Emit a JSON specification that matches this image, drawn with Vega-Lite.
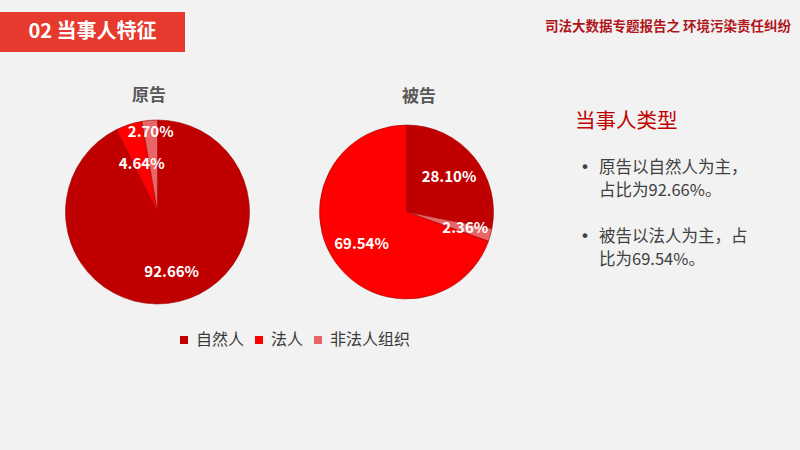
{
  "$schema": "https://vega.github.io/schema/vega-lite/v6.json",
  "background": "#F2F2F2",
  "padding": {"top": 12, "left": 0, "right": 0, "bottom": 0},
  "config": {
    "font": "Noto Sans CJK SC",
    "view": {"stroke": null},
    "concat": {"spacing": 0},
    "title": {"font": "Noto Sans CJK SC"}
  },
  "datasets": {
    "header": [{"text": "02  当事人特征"}],
    "report": [{"text": "司法大数据专题报告之 环境污染责任纠纷"}],
    "shares": [
      {"party": "原告", "category": "自然人", "rank": 1, "pct": 0.9266},
      {"party": "原告", "category": "法人", "rank": 2, "pct": 0.0464},
      {"party": "原告", "category": "非法人组织", "rank": 3, "pct": 0.0270},
      {"party": "被告", "category": "自然人", "rank": 1, "pct": 0.2810},
      {"party": "被告", "category": "非法人组织", "rank": 2, "pct": 0.0236},
      {"party": "被告", "category": "法人", "rank": 3, "pct": 0.6954}
    ],
    "notes": [
      {"line": 1, "kind": "heading", "text": "当事人类型"},
      {"line": 3, "kind": "bullet", "text": "原告以自然人为主，"},
      {"line": 4, "kind": "cont", "text": "占比为92.66%。"},
      {"line": 6, "kind": "bullet", "text": "被告以法人为主，占"},
      {"line": 7, "kind": "cont", "text": "比为69.54%。"}
    ]
  },
  "spacing": 34,
  "vconcat": [
    {
      "spacing": 0,
      "hconcat": [
        {
          "width": 185,
          "height": 40,
          "view": {"fill": "#E53A2D", "stroke": null},
          "data": {"name": "header"},
          "mark": {"type": "text", "color": "#FFFFFF", "fontSize": 20, "fontWeight": "bold", "baseline": "middle"},
          "encoding": {"text": {"field": "text", "type": "nominal"}}
        },
        {
          "width": 615,
          "height": 40,
          "data": {"name": "report"},
          "mark": {"type": "text", "color": "#B0161B", "fontSize": 13.5, "fontWeight": "bold", "align": "right", "baseline": "middle"},
          "encoding": {
            "text": {"field": "text", "type": "nominal"},
            "x": {"datum": 606, "type": "quantitative", "scale": {"domain": [0, 615], "nice": false, "zero": false}, "axis": null},
            "y": {"datum": 15.3, "type": "quantitative", "scale": {"domain": [0, 40], "reverse": true, "nice": false, "zero": false}, "axis": null}
          }
        }
      ]
    },
    {
      "spacing": 0,
      "hconcat": [
        {
          "width": 315,
          "height": 184,
          "title": {"text": "原告", "fontSize": 17, "fontWeight": "bold", "color": "#595959", "offset": 14, "dx": -8.5},
          "data": {"name": "shares"},
          "transform": [{"filter": "datum.party === '原告'"}],
          "encoding": {
            "theta": {"field": "pct", "type": "quantitative", "stack": true},
            "order": {"field": "rank", "type": "quantitative"},
            "color": {
              "field": "category", "type": "nominal",
              "scale": {"domain": ["自然人", "法人", "非法人组织"], "range": ["#C00000", "#FF0000", "#E96666"]},
              "legend": {"orient": "none", "legendX": 176, "legendY": 320, "direction": "horizontal", "title": null, "symbolType": "square", "symbolSize": 64, "symbolStrokeWidth": 0, "labelFontSize": 16, "labelColor": "#3A3A3A", "labelFont": "Noto Sans CJK SC", "columnPadding": 6, "labelOffset": 4}
            }
          },
          "layer": [
            {"mark": {"type": "arc", "outerRadius": 92, "stroke": "#A00000", "strokeWidth": 0.6}},
            {
              "mark": {"type": "text", "radius": 62, "fontSize": 15, "fontWeight": "bold"},
              "encoding": {
                "color": {"value": "#FFFFFF"},
                "text": {"condition": {"test": "datum.category === '自然人'", "field": "pct", "type": "quantitative", "format": ".2%"}, "value": ""}
              }
            },
            {
              "mark": {"type": "text", "radius": 51, "fontSize": 15, "fontWeight": "bold"},
              "encoding": {
                "color": {"value": "#FFFFFF"},
                "text": {"condition": {"test": "datum.category === '法人'", "field": "pct", "type": "quantitative", "format": ".2%"}, "value": ""}
              }
            },
            {
              "mark": {"type": "text", "radius": 80, "fontSize": 15, "fontWeight": "bold"},
              "encoding": {
                "color": {"value": "#FFFFFF"},
                "text": {"condition": {"test": "datum.category === '非法人组织'", "field": "pct", "type": "quantitative", "format": ".2%"}, "value": ""}
              }
            }
          ]
        },
        {
          "width": 183,
          "height": 184,
          "title": {"text": "被告", "fontSize": 17, "fontWeight": "bold", "color": "#595959", "offset": 14, "dx": 12.5},
          "data": {"name": "shares"},
          "transform": [{"filter": "datum.party === '被告'"}],
          "encoding": {
            "theta": {"field": "pct", "type": "quantitative", "stack": true},
            "order": {"field": "rank", "type": "quantitative"},
            "color": {
              "field": "category", "type": "nominal",
              "scale": {"domain": ["自然人", "法人", "非法人组织"], "range": ["#C00000", "#FF0000", "#E96666"]},
              "legend": {"orient": "none", "legendX": 176, "legendY": 320, "direction": "horizontal", "title": null, "symbolType": "square", "symbolSize": 64, "symbolStrokeWidth": 0, "labelFontSize": 16, "labelColor": "#3A3A3A", "labelFont": "Noto Sans CJK SC", "columnPadding": 6, "labelOffset": 4}
            }
          },
          "layer": [
            {"mark": {"type": "arc", "outerRadius": 87, "stroke": "#A00000", "strokeWidth": 0.6}},
            {
              "mark": {"type": "text", "radius": 55, "fontSize": 15, "fontWeight": "bold"},
              "encoding": {
                "color": {"value": "#FFFFFF"},
                "text": {"condition": {"test": "datum.category !== '非法人组织'", "field": "pct", "type": "quantitative", "format": ".2%"}, "value": ""}
              }
            },
            {
              "mark": {"type": "text", "radius": 61, "fontSize": 15, "fontWeight": "bold"},
              "encoding": {
                "color": {"value": "#FFFFFF"},
                "text": {"condition": {"test": "datum.category === '非法人组织'", "field": "pct", "type": "quantitative", "format": ".2%"}, "value": ""}
              }
            }
          ]
        },
        {
          "width": 302,
          "height": 332,
          "data": {"name": "notes"},
          "encoding": {
            "y": {"field": "line", "type": "quantitative", "scale": {"domain": [0.913, 15.348], "reverse": true, "nice": false, "zero": false}, "axis": null}
          },
          "layer": [
            {
              "transform": [{"filter": "datum.kind === 'heading'"}],
              "mark": {"type": "text", "align": "left", "baseline": "middle", "fontSize": 20.5, "color": "#C00000"},
              "encoding": {
                "x": {"datum": 77, "type": "quantitative", "scale": {"domain": [0, 302], "nice": false, "zero": false}, "axis": null},
                "text": {"field": "text", "type": "nominal"}
              }
            },
            {
              "transform": [{"filter": "datum.kind === 'bullet'"}],
              "mark": {"type": "text", "align": "center", "baseline": "middle", "fontSize": 16, "font": "DejaVu Sans", "color": "#404040", "text": "•"},
              "encoding": {
                "x": {"datum": 87, "type": "quantitative", "scale": {"domain": [0, 302], "nice": false, "zero": false}, "axis": null}
              }
            },
            {
              "transform": [{"filter": "datum.kind !== 'heading'"}],
              "mark": {"type": "text", "align": "left", "baseline": "middle", "fontSize": 16.5, "color": "#404040"},
              "encoding": {
                "x": {"datum": 101, "type": "quantitative", "scale": {"domain": [0, 302], "nice": false, "zero": false}, "axis": null},
                "text": {"field": "text", "type": "nominal"}
              }
            }
          ]
        }
      ]
    }
  ]
}
